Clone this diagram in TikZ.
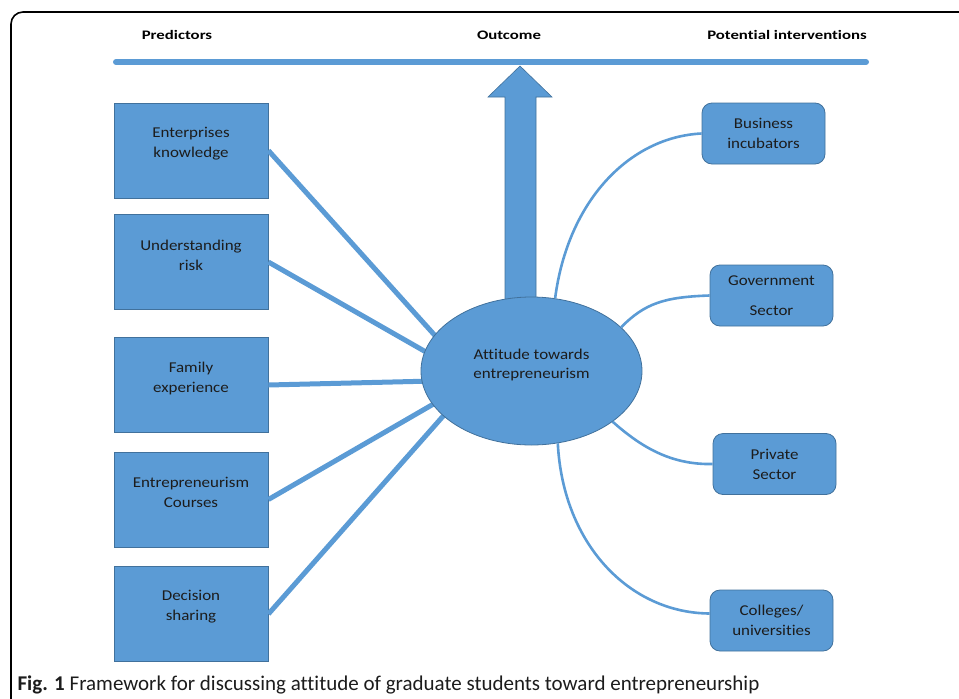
\documentclass[tikz,border=0pt]{standalone}
\usepackage{fontspec}
\setmainfont[Ligatures=NoCommon]{Carlito}
\newfontfamily\boxfont[FakeStretch=1.13,Ligatures=NoCommon]{Carlito}
\newfontfamily\headfont[FakeStretch=1.29,Ligatures=NoCommon]{Carlito}
\usetikzlibrary{shapes.geometric}
\definecolor{fillblue}{HTML}{5B9BD5}
\definecolor{edgeblue}{HTML}{41719C}
\definecolor{inkgray}{HTML}{1C1C1C}

\begin{document}
\begin{tikzpicture}[x=1pt,y=-1pt,
	predbox/.style={draw=edgeblue,fill=fillblue,line width=.8pt,minimum width=154pt,minimum height=95pt,inner sep=0pt},
	intbox/.style={draw=edgeblue,fill=fillblue,line width=.8pt,rounded corners=10pt,minimum width=123pt,minimum height=61pt,inner sep=0pt,boxtext},
	boxtext/.style={font=\boxfont\fontsize{15}{20}\selectfont,text=inkgray,align=center},
	header/.style={font=\headfont\bfseries\fontsize{13}{15}\selectfont,text=black},
	spoke/.style={fillblue,line width=5pt},
	link/.style={fillblue,line width=2.6pt}]
	\clip (0,0) rectangle (959,699);
	\draw[line width=1.6pt,rounded corners=12pt] (11,720) -- (11,12) -- (975,12);
	\node[header] (hpred) at (177,35) {Predictors};
	\node[header] (hout) at (509,35) {Outcome};
	\node[header] (hint) at (787,35) {Potential interventions};
	\draw[fillblue,line width=6pt,line cap=round] (116,62) -- (866,62);
	\draw[draw=edgeblue,fill=fillblue,line width=.6pt] (505,330) -- (505,97) -- (488,97) -- (520,66) -- (552,97) -- (536,97) -- (536,330) -- cycle;
	\node[predbox] (p1) at (191,150.5) {};
	\node[predbox] (p2) at (191,262) {};
	\node[predbox] (p3) at (191,385) {};
	\node[predbox] (p4) at (191,499.5) {};
	\node[predbox] (p5) at (191,614) {};
	\node[boxtext] (p1t) at ([yshift=7pt]p1.center) {Enterprises\\knowledge};
	\node[boxtext] (p2t) at ([yshift=7pt]p2.center) {Understanding\\risk};
	\node[boxtext] (p3t) at ([yshift=7pt]p3.center) {Family\\experience};
	\node[boxtext] (p4t) at ([yshift=7pt]p4.center) {Entrepreneurism\\Courses};
	\node[boxtext] (p5t) at ([yshift=7pt]p5.center) {Decision\\sharing};
	\coordinate (hub) at (475,380);
	\foreach \i in {1,...,5}
		\draw[spoke] (p\i.east) -- (hub);
	\node[ellipse,draw=edgeblue,fill=fillblue,line width=.8pt,minimum width=221pt,minimum height=148pt,inner sep=0pt] (att) at (531.5,371) {};
	\node[boxtext,font=\boxfont\fontsize{15}{19}\selectfont] (attt) at ([yshift=6pt]att.center) {Attitude towards\\entrepreneurism};
	\node[intbox] (bus) at (763.5,133.5) {Business\\incubators};
	\node[intbox] (gov) at (771.5,295.5) {Government\\[10pt]Sector};
	\node[intbox] (priv) at (774.5,464) {Private\\Sector};
	\node[intbox] (coll) at (771.5,620.5) {Colleges/\\universities};
	\draw[link] (att.72) .. controls (568,200) and (630,137) .. (bus.west);
	\draw[link] (att.26) .. controls (645,303) and (665,297) .. (gov.west);
	\draw[link] (att.-32) .. controls (640,446) and (670,465) .. (priv.west);
	\draw[link] (att.-70) .. controls (563,545) and (630,613) .. ([yshift=7pt]coll.west);
	\node[anchor=base west,font=\fontsize{21}{25}\selectfont,text=inkgray] (cap) at (14,690) {\textbf{Fig. 1} Framework for discussing attitude of graduate students toward entrepreneurship};
\end{tikzpicture}
\end{document}
